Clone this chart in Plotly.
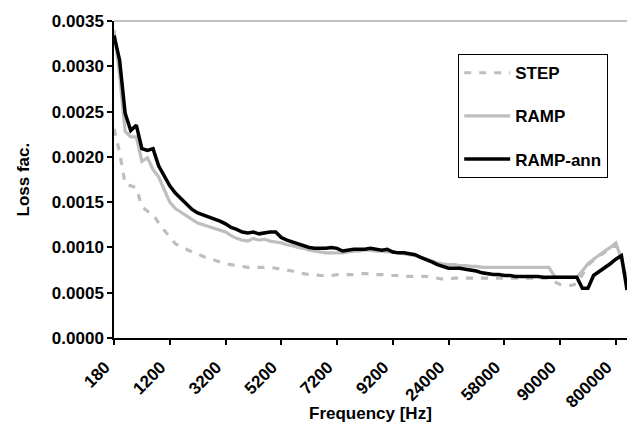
import plotly.graph_objects as go

categories = [
    "180", "200", "300", "400", "500", "600", "700", "800", "900", "1000",
    "1200", "1400", "1600", "1800", "2000", "2200", "2400", "2600", "2800", "3000",
    "3200", "3400", "3600", "3800", "4000", "4200", "4400", "4600", "4800", "5000",
    "5200", "5400", "5600", "5800", "6000", "6200", "6400", "6600", "6800", "7000",
    "7200", "7400", "7600", "7800", "8000", "8200", "8400", "8600", "8800", "9000",
    "9200", "9400", "9600", "9800", "10000", "12000", "14000", "16000", "18000", "22000",
    "24000", "26000", "28000", "30000", "34000", "38000", "42000", "46000", "50000", "54000",
    "58000", "60000", "62000", "64000", "66000", "70000", "74000", "78000", "82000", "86000",
    "90000", "100000", "150000", "200000", "300000", "400000", "500000", "600000", "700000", "750000",
    "800000", "900000", "1000000",
]

tick_labels = ["180", "1200", "3200", "5200", "7200", "9200", "24000", "58000", "90000", "800000"]

step = [
    0.00231, 0.00205, 0.00170, 0.00168, 0.00166, 0.00145, 0.00140, 0.00137, 0.00127, 0.00119,
    0.00112, 0.00104, 0.00101, 0.00098, 0.00095, 0.00093, 0.00090, 0.00088, 0.00086, 0.00084,
    0.00082, 0.00081, 0.00080, 0.00079, 0.00078, 0.00078, 0.00078, 0.00078, 0.00078, 0.00077,
    0.00076, 0.00075, 0.00074, 0.00072, 0.00071, 0.00070, 0.00070, 0.00069, 0.00069, 0.00069,
    0.00070, 0.00070, 0.00070, 0.00070, 0.00071, 0.00071, 0.00071, 0.00070, 0.00070, 0.00069,
    0.00069, 0.00069, 0.00068, 0.00068, 0.00068, 0.00068, 0.00068, 0.00067, 0.00066, 0.00065,
    0.00065, 0.00066, 0.00066, 0.00066, 0.00066, 0.00066, 0.00066, 0.00066, 0.00066, 0.00066,
    0.00066, 0.00066, 0.00066, 0.00066, 0.00066, 0.00066, 0.00066, 0.00066, 0.00066, 0.00062,
    0.00059, 0.00058, 0.00058, 0.00060, 0.00070, 0.00080, 0.00086, 0.00090, 0.00094, 0.00098,
    0.00103, 0.00088, 0.00062,
]

ramp = [
    0.00340, 0.00290, 0.00228, 0.00222, 0.00222, 0.00195, 0.00199, 0.00186, 0.00178, 0.00163,
    0.00150, 0.00143, 0.00139, 0.00135, 0.00130, 0.00127, 0.00125, 0.00123, 0.00121, 0.00119,
    0.00117, 0.00113, 0.00110, 0.00108, 0.00107, 0.00110, 0.00108, 0.00109, 0.00107, 0.00106,
    0.00105, 0.00103, 0.00102, 0.00100, 0.00099, 0.00097, 0.00096, 0.00095, 0.00094, 0.00094,
    0.00094, 0.00094, 0.00095, 0.00096, 0.00096, 0.00097, 0.00097, 0.00096, 0.00096, 0.00095,
    0.00095, 0.00094, 0.00093, 0.00092, 0.00091, 0.00089, 0.00087, 0.00085, 0.00083, 0.00082,
    0.00081, 0.00081, 0.00080, 0.00080, 0.00079, 0.00079, 0.00078, 0.00078, 0.00078, 0.00078,
    0.00078, 0.00078, 0.00078, 0.00078, 0.00078, 0.00078, 0.00078, 0.00078, 0.00078, 0.00068,
    0.00067, 0.00067, 0.00067, 0.00067, 0.00074, 0.00082, 0.00087, 0.00092, 0.00096, 0.00100,
    0.00105, 0.00087, 0.00063,
]

ramp_ann = [
    0.00334, 0.00307, 0.00248, 0.00229, 0.00235, 0.00209, 0.00207, 0.00209, 0.00190, 0.00178,
    0.00168, 0.00160, 0.00154, 0.00148, 0.00142, 0.00138, 0.00136, 0.00134, 0.00131, 0.00129,
    0.00126, 0.00122, 0.00120, 0.00117, 0.00116, 0.00117, 0.00115, 0.00116, 0.00117, 0.00117,
    0.00111, 0.00108, 0.00106, 0.00103, 0.00102, 0.00100, 0.00099, 0.00099, 0.00099, 0.00100,
    0.00099, 0.00096, 0.00097, 0.00098, 0.00098, 0.00098, 0.00099, 0.00098, 0.00097, 0.00098,
    0.00095, 0.00094, 0.00094, 0.00093, 0.00092, 0.00089, 0.00087, 0.00084, 0.00081, 0.00079,
    0.00077, 0.00077, 0.00077, 0.00076, 0.00075, 0.00074, 0.00072, 0.00071, 0.00070, 0.00070,
    0.00069, 0.00069, 0.00068, 0.00068, 0.00068, 0.00068, 0.00068, 0.00067, 0.00067, 0.00067,
    0.00067, 0.00067, 0.00067, 0.00067, 0.00055, 0.00055, 0.00069, 0.00073, 0.00077, 0.00082,
    0.00087, 0.00091, 0.00053,
]

series_names = ["STEP", "RAMP", "RAMP-ann"]

FONT = "Arial, 'Liberation Sans', sans-serif"
GRAY = "#BEBEBE"

fig = go.Figure()
fig.add_trace(go.Scatter(x=categories, y=step, mode="lines", name=series_names[0],
                         legendgroup="a",
                         line=dict(color=GRAY, width=3.2, dash="7px,8px")))
fig.add_trace(go.Scatter(x=categories, y=ramp, mode="lines", name=series_names[1],
                         legendgroup="b",
                         line=dict(color=GRAY, width=3.2)))
fig.add_trace(go.Scatter(x=categories, y=ramp_ann, mode="lines", name=series_names[2],
                         legendgroup="c",
                         line=dict(color="#000000", width=3.5)))

fig.update_layout(
    width=627, height=441,
    margin=dict(l=114, r=0, t=21, b=103),
    paper_bgcolor="white", plot_bgcolor="white",
    font=dict(family=FONT, size=17, color="black", weight="bold"),
    showlegend=True,
    legend=dict(
        x=(458 - 114) / 513, y=1 - (54 - 21) / 317, xanchor="left", yanchor="top",
        bordercolor="black", borderwidth=1.2, bgcolor="white",
        font=dict(family=FONT, size=17, color="black", weight="bold"),
        traceorder="grouped", tracegroupgap=18, itemwidth=46,
    ),
    xaxis=dict(
        type="category", categoryorder="array", categoryarray=categories,
        range=[0, len(categories) - 1],
        tickmode="array", tickvals=tick_labels, ticktext=tick_labels,
        tickangle=-45, ticks="outside", ticklen=5, tickwidth=1.5, tickcolor="black",
        ticklabelshift=-9, ticklabelstandoff=6,
        showline=True, linecolor="black", linewidth=1.5,
        showgrid=False, zeroline=False,
        tickfont=dict(family=FONT, size=17, color="black", weight="bold"),
    ),
    yaxis=dict(
        range=[0, 0.0035], dtick=0.0005, tick0=0, tickformat=".4f",
        ticks="outside", ticklen=5, tickwidth=1.5, tickcolor="black",
        showline=True, linecolor="black", linewidth=1.5,
        showgrid=False, zeroline=False,
        tickfont=dict(family=FONT, size=17, color="black", weight="bold"),
    ),
    shapes=[dict(type="line", xref="paper", yref="paper", x0=0, x1=1, y0=1, y1=1,
                 line=dict(color="#808080", width=1))],
    annotations=[
        dict(text="Loss fac.", xref="paper", yref="paper",
             x=(23 - 114) / 513, y=0.5, xanchor="center", yanchor="middle",
             textangle=-90, showarrow=False,
             font=dict(family=FONT, size=17, color="black", weight="bold")),
        dict(text="Frequency [Hz]", xref="paper", yref="paper",
             x=0.5, y=(338 - 413) / 317, xanchor="center", yanchor="middle",
             showarrow=False,
             font=dict(family=FONT, size=17, color="black", weight="bold")),
    ],
)

fig.write_html("out.html")
